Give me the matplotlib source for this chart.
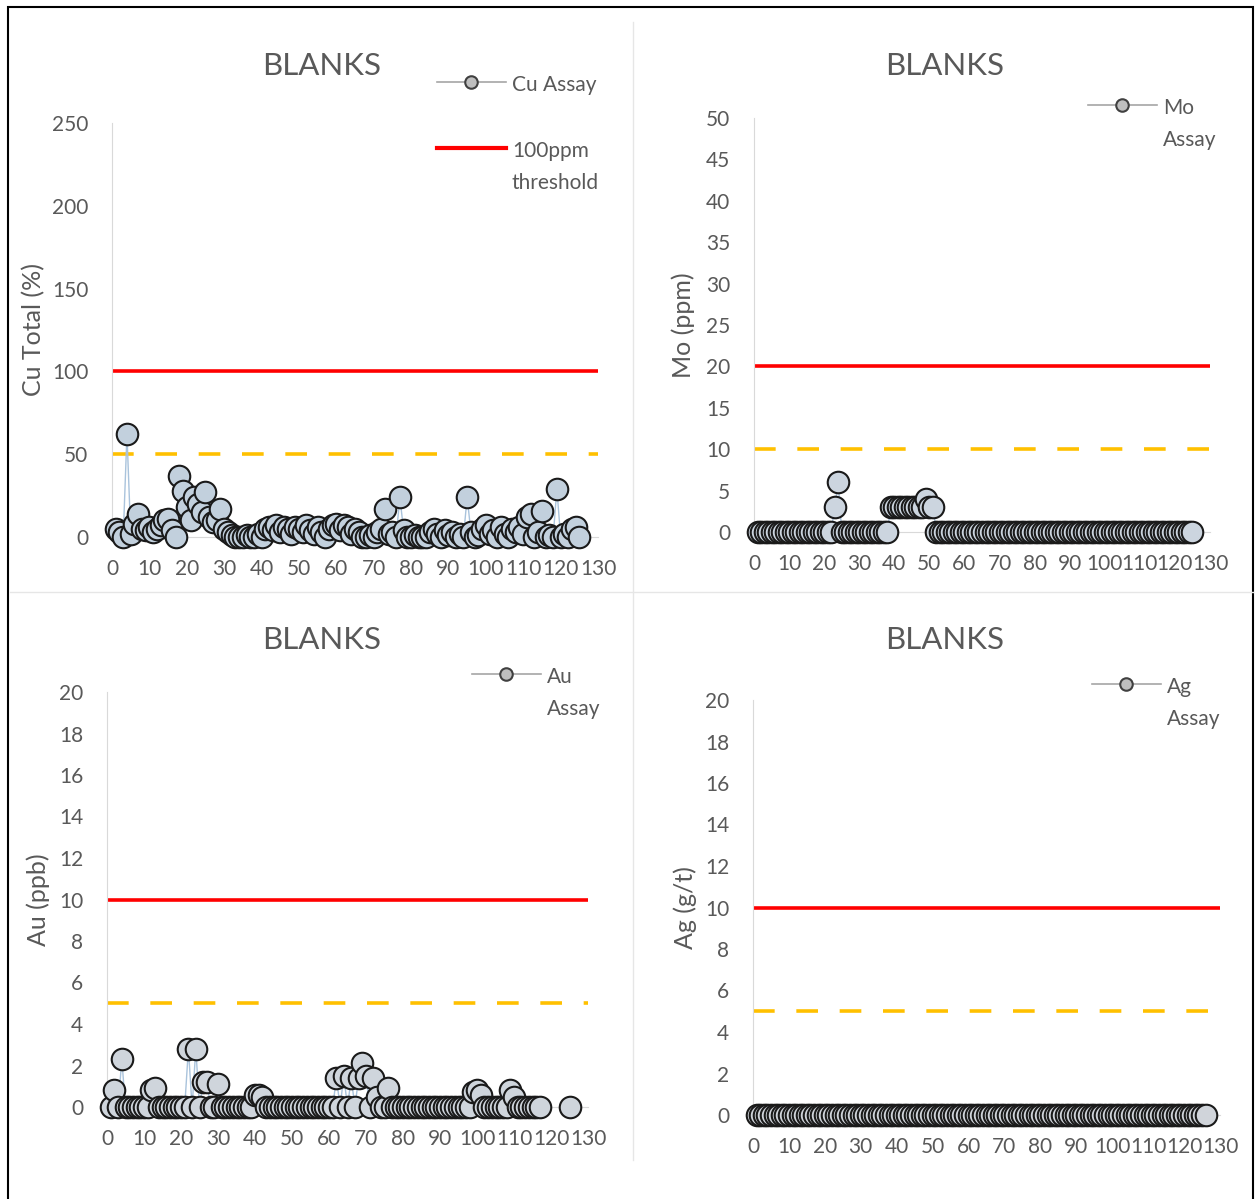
import matplotlib
matplotlib.use("Agg")
import matplotlib.pyplot as plt
from matplotlib.lines import Line2D
from matplotlib.patches import Rectangle
import numpy as np

plt.rcParams['font.family'] = ['Lato', 'DejaVu Sans']

# --- data -------------------------------------------------------------
sample_no = np.arange(1, 126)

cu_assay = [5, 3, 0, 62, 2, 8, 14, 5, 4, 6, 3, 5, 7, 10, 11, 4, 0, 37, 28, 18,
            10, 24, 20, 15, 27, 12, 9, 10, 17, 5, 3, 1, 0, 0, 0, 1, 0, 0, 2, 0,
            5, 6, 4, 7, 3, 6, 5, 2, 6, 5, 3, 7, 4, 2, 6, 3, 0, 5, 7, 8,
            4, 7, 6, 2, 5, 3, 0, 0, 1, 0, 3, 5, 17, 2, 3, 0, 24, 4, 0, 0,
            1, 0, 0, 0, 3, 5, 2, 0, 4, 1, 3, 0, 2, 0, 24, 3, 0, 1, 5, 7,
            2, 4, 0, 6, 2, 0, 5, 3, 6, 2, 12, 14, 0, 3, 16, 0, 1, 0, 29, 0,
            2, 0, 5, 6, 0]

mo_assay = [0] * 22 + [3, 6] + [0] * 14 + [3] * 10 + [4, 3, 3] + [0] * 74

au_assay = [0, 0.8, 0, 2.3, 0, 0, 0, 0, 0, 0, 0, 0.8, 0.9, 0, 0, 0, 0, 0, 0, 0,
            0, 2.8, 0, 2.8, 0, 1.2, 1.2, 0, 0, 1.1, 0, 0, 0, 0, 0, 0, 0, 0, 0, 0.6,
            0.6, 0.5, 0, 0, 0, 0, 0, 0, 0, 0, 0, 0, 0, 0, 0, 0, 0, 0, 0, 0,
            0, 1.4, 0, 1.5, 0, 1.4, 0, 1.4, 2.1, 1.5, 0, 1.4, 0.5, 0, 0, 0.9, 0, 0, 0, 0,
            0, 0, 0, 0, 0, 0, 0, 0, 0, 0, 0, 0, 0, 0, 0, 0, 0, 0, 0.7, 0.8,
            0.6, 0, 0, 0, 0, 0, 0, 0, 0.8, 0.5, 0, 0, 0, 0, 0, 0, 0, np.nan, np.nan, np.nan,
            np.nan, np.nan, np.nan, np.nan, 0]

ag_sample_no = np.arange(1, 127)
ag_assay = [0] * 126

thr_x = [0, 130]
red_limit = {'Cu': 100, 'Mo': 20, 'Au': 10, 'Ag': 10}
orange_limit = {'Cu': 50, 'Mo': 10, 'Au': 5, 'Ag': 5}

y_labels = {'Cu': 'Cu Total (%)', 'Mo': 'Mo (ppm)', 'Au': 'Au (ppb)', 'Ag': 'Ag (g/t)'}
y_max = {'Cu': 250, 'Mo': 50, 'Au': 20, 'Ag': 20}
y_step = {'Cu': 50, 'Mo': 5, 'Au': 2, 'Ag': 2}

# --- figure -----------------------------------------------------------
W, H = 1255, 1199
fig = plt.figure(figsize=(W / 100, H / 100), dpi=100)
fig.patch.set_facecolor('white')

# axes rectangles from pixel layout (left, x130, y0 px, ytop px)
layout = {
    'Cu': (112, 598, 537, 123),
    'Mo': (754, 1210, 532, 118),
    'Au': (107, 588, 1107, 692),
    'Ag': (753, 1220, 1115, 700),
}
title_pos = {'Cu': (322, 66), 'Mo': (945, 66), 'Au': (322, 640), 'Ag': (945, 640)}
ylab_x = {'Cu': 33, 'Mo': 683, 'Au': 38, 'Ag': 685}
legend_pos = {'Cu': (437, 75), 'Mo': (1088, 98), 'Au': (472, 667), 'Ag': (1092, 677)}

series = {
    'Cu': (sample_no, cu_assay, '#c2d0dd'),
    'Mo': (sample_no, mo_assay, '#ccd5df'),
    'Au': (sample_no, au_assay, '#cfd5dc'),
    'Ag': (ag_sample_no, ag_assay, '#d0d4da'),
}

grey = '#595959'

for key, (x0, x1, y0, y1) in layout.items():
    ax = fig.add_axes([x0 / W, 1 - y0 / H, (x1 - x0) / W, (y0 - y1) / H])
    ax.set_facecolor('none')
    xs, ys, fc = series[key]

    ax.plot(thr_x, [red_limit[key]] * 2, color='#ff0000', lw=2.6,
            solid_capstyle='butt', zorder=2)
    ax.plot(thr_x, [orange_limit[key]] * 2, color='#ffc000', lw=2.6,
            dashes=(6, 6), zorder=2)
    ax.plot(xs, ys, '-o', color='#a9c3dc', lw=1.0, ms=15.5, mfc=fc, mec='#1a1a1a',
            mew=1.5, clip_on=False, zorder=3)

    ax.set_xlim(0, 130)
    ax.set_ylim(0, y_max[key])
    ax.set_xticks(np.arange(0, 131, 10))
    ax.set_yticks(np.arange(0, y_max[key] + 1, y_step[key]))
    ax.tick_params(length=0, labelsize=15, labelcolor=grey)
    ax.tick_params(axis='x', pad=16)
    ax.tick_params(axis='y', pad=17)
    for s in ['top', 'right']:
        ax.spines[s].set_visible(False)
    ax.spines['left'].set_color('#d9d9d9')
    ax.spines['bottom'].set_color('#d9d9d9')

    ax.set_ylabel(y_labels[key], fontsize=18, color=grey)
    ax.yaxis.set_label_coords((ylab_x[key] + 12 - x0) / (x1 - x0), 0.5)

    tx, ty = title_pos[key]
    fig.text(tx / W, 1 - ty / H, 'BLANKS', fontsize=22.5, color=grey,
             ha='center', va='center')

    handles = [Line2D([], [], color='#a6a6a6', lw=1.2, marker='o', ms=9,
                      mfc='#bfbfbf', mec='#404040', mew=1.5)]
    if key == 'Cu':
        labels = ['Cu Assay']
        handles.append(Line2D([], [], color='#ff0000', lw=3))
        labels.append('100ppm\nthreshold')
    else:
        labels = [key + '\nAssay']
    lx, ly = legend_pos[key]
    leg = ax.legend(handles, labels, loc='upper left', bbox_to_anchor=(lx / W, 1 - ly / H),
                    bbox_transform=fig.transFigure, frameon=False, fontsize=15,
                    handlelength=3.3, handletextpad=0.3, labelspacing=2.2,
                    borderpad=0, borderaxespad=0)
    for t in leg.get_texts():
        t.set_color(grey)
        t.set_linespacing(1.75)
    # keep the legend symbol level with the first text line
    for col in leg._legend_handle_box.get_children():
        for item in col.get_children():
            item.align = 'top'

# panel dividers and outer frame
fig.add_artist(Line2D([633 / W, 633 / W], [1 - 1160 / H, 1 - 22 / H], color='#e6e6e6', lw=1))
fig.add_artist(Line2D([10 / W, 1253 / W], [1 - 592 / H, 1 - 592 / H], color='#e6e6e6', lw=1))
fig.add_artist(Rectangle((8 / W, -0.01), 1245 / W, 1 - 7 / H + 0.01, fill=False,
                         edgecolor='black', lw=1.5, transform=fig.transFigure))

fig.savefig('out.png', dpi=100)
